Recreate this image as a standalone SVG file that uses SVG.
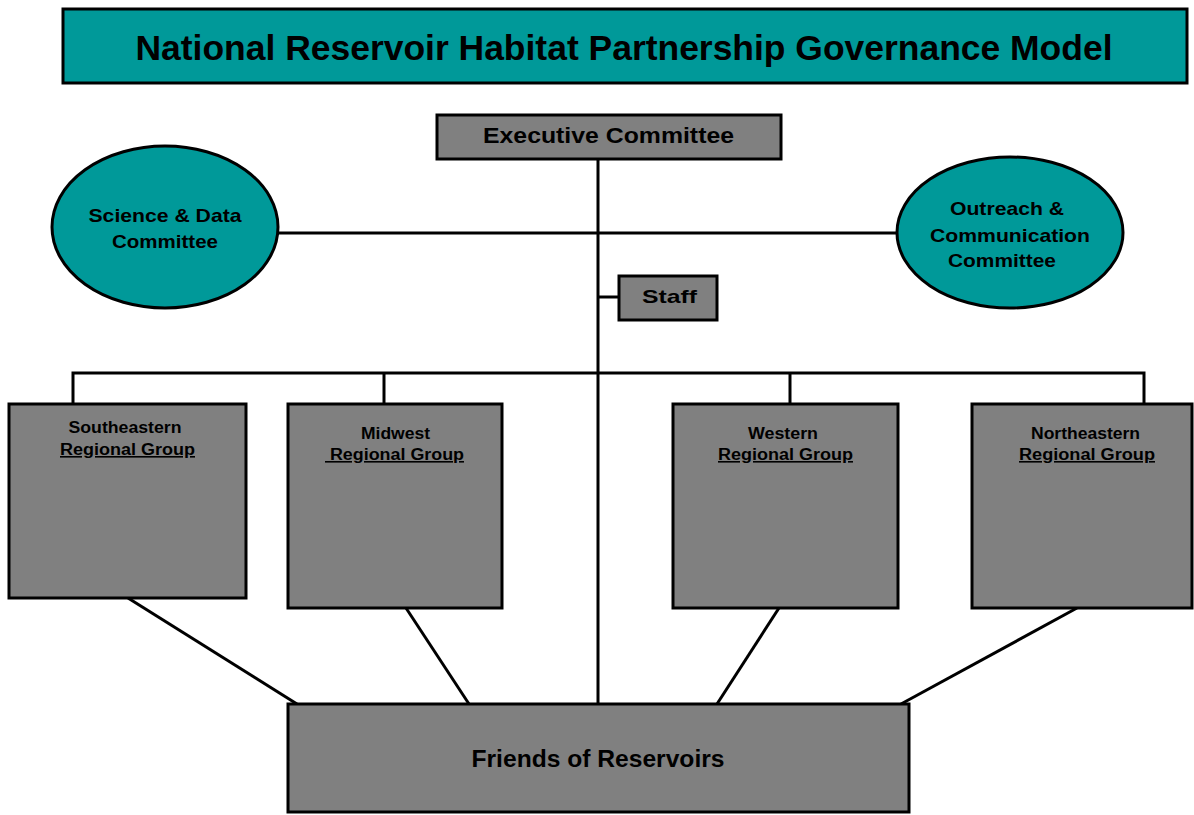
<svg xmlns="http://www.w3.org/2000/svg" width="1194" height="815" viewBox="0 0 1194 815">
<style>
.teal{fill:#009999;stroke:#000;stroke-width:3}
.gray{fill:#808080;stroke:#000;stroke-width:3}
.con{stroke:#000;stroke-width:3;fill:none}
text{font-family:"Liberation Sans",Arial,sans-serif;font-weight:bold;fill:#000;text-anchor:middle}
.t1{font-size:35px}
.t2{font-size:22px}
.t3{font-size:19px}
.t4{font-size:16px}
.t5{font-size:23px}
.u{text-decoration:underline}
</style>
<rect width="1194" height="815" fill="#fff"/>
<g id="connectors">
<line class="con" x1="598" y1="159" x2="598" y2="704"/>
<line class="con" x1="278" y1="233" x2="898" y2="233"/>
<line class="con" x1="598" y1="297" x2="618" y2="297"/>
<polyline class="con" points="73,404 73,373 1144,373 1144,404"/>
<line class="con" x1="384" y1="373" x2="384" y2="404"/>
<line class="con" x1="790" y1="373" x2="790" y2="404"/>
<line class="con" x1="128" y1="598" x2="297" y2="704"/>
<line class="con" x1="406" y1="608" x2="469" y2="704"/>
<line class="con" x1="779" y1="608" x2="717" y2="704"/>
<line class="con" x1="1077" y1="608" x2="901" y2="704"/>
</g>
<g id="title">
<rect class="teal" x="63" y="9" width="1124" height="74"/>
<text class="t1" x="624" y="60" textLength="977" lengthAdjust="spacingAndGlyphs">National Reservoir Habitat Partnership Governance Model</text>
</g>
<g id="executive">
<rect class="gray" x="437" y="115" width="344" height="44"/>
<text class="t2" x="608.5" y="143" textLength="251" lengthAdjust="spacingAndGlyphs">Executive Committee</text>
</g>
<g id="science">
<ellipse class="teal" cx="165" cy="227" rx="113" ry="81"/>
<text class="t3" x="165" y="222" textLength="153" lengthAdjust="spacingAndGlyphs">Science &amp; Data</text>
<text class="t3" x="165" y="248" textLength="106" lengthAdjust="spacingAndGlyphs">Committee</text>
</g>
<g id="outreach">
<ellipse class="teal" cx="1010" cy="232.5" rx="113" ry="75.5"/>
<text class="t3" x="1007" y="215" textLength="114" lengthAdjust="spacingAndGlyphs">Outreach &amp;</text>
<text class="t3" x="1010" y="242" textLength="160" lengthAdjust="spacingAndGlyphs">Communication</text>
<text class="t3" x="1002" y="267" textLength="108" lengthAdjust="spacingAndGlyphs">Committee</text>
</g>
<g id="staff">
<rect class="gray" x="619" y="276" width="98" height="44"/>
<text class="t3" x="669.5" y="303" textLength="55" lengthAdjust="spacingAndGlyphs">Staff</text>
</g>
<g id="southeastern">
<rect class="gray" x="9" y="404" width="237" height="194"/>
<text class="t4" x="125" y="433" textLength="113" lengthAdjust="spacingAndGlyphs">Southeastern</text>
<text class="t4 u" x="127.5" y="455" textLength="135" lengthAdjust="spacingAndGlyphs">Regional Group</text>
</g>
<g id="midwest">
<rect class="gray" x="288" y="404" width="214" height="204"/>
<text class="t4" x="395.5" y="439" textLength="69" lengthAdjust="spacingAndGlyphs">Midwest</text>
<text class="t4 u" x="394.5" y="460" textLength="139" lengthAdjust="spacingAndGlyphs" xml:space="preserve"> Regional Group</text>
</g>
<g id="western">
<rect class="gray" x="673" y="404" width="225" height="204"/>
<text class="t4" x="783" y="439" textLength="70" lengthAdjust="spacingAndGlyphs">Western</text>
<text class="t4 u" x="785.5" y="460" textLength="135" lengthAdjust="spacingAndGlyphs">Regional Group</text>
</g>
<g id="northeastern">
<rect class="gray" x="972" y="404" width="220" height="204"/>
<text class="t4" x="1085.5" y="439" textLength="109" lengthAdjust="spacingAndGlyphs">Northeastern</text>
<text class="t4 u" x="1087" y="460" textLength="136" lengthAdjust="spacingAndGlyphs">Regional Group</text>
</g>
<g id="friends">
<rect class="gray" x="288" y="704" width="621" height="108"/>
<text class="t5" x="598" y="767" textLength="253" lengthAdjust="spacingAndGlyphs">Friends of Reservoirs</text>
</g>
</svg>
